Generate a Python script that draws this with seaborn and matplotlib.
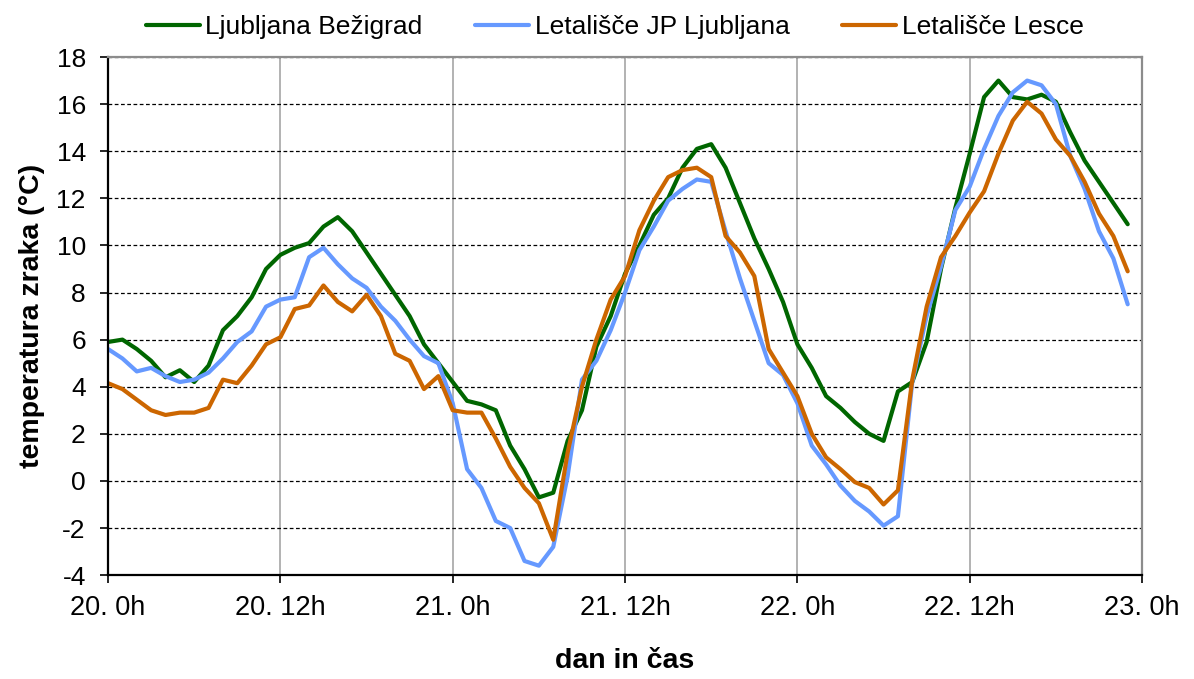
import matplotlib
matplotlib.use("Agg")
import matplotlib.pyplot as plt
import numpy as np
import pandas as pd
import seaborn as sns

# hourly air temperature, 20. 0h .. 22. 23h
hours = list(range(72))

bezigrad = [5.9, 6.0, 5.6, 5.1, 4.4, 4.7, 4.2, 4.9, 6.4, 7.0, 7.8, 9.0,
            9.6, 9.9, 10.1, 10.8, 11.2, 10.6, 9.7, 8.8, 7.9, 7.0, 5.8, 5.0,
            4.2, 3.4, 3.25, 3.0, 1.5, 0.5, -0.7, -0.5, 1.7, 3.0, 5.7, 7.0,
            8.8, 10.0, 11.3, 12.0, 13.3, 14.1, 14.3, 13.3, 11.8, 10.3, 9.0, 7.6,
            5.8, 4.8, 3.6, 3.1, 2.5, 2.0, 1.7, 3.8, 4.2, 5.9, 9.0, 11.6,
            13.9, 16.3, 17.0, 16.3, 16.2, 16.4, 16.1, 14.8, 13.6, 12.7, 11.8, 10.9]

jp_ljubljana = [5.6, 5.2, 4.65, 4.8, 4.45, 4.2, 4.3, 4.6, 5.2, 5.9, 6.35, 7.4,
                7.7, 7.8, 9.5, 9.9, 9.2, 8.6, 8.2, 7.4, 6.8, 6.0, 5.3, 5.0,
                3.3, 0.5, -0.3, -1.7, -2.0, -3.4, -3.6, -2.8, 0.2, 4.3, 5.1, 6.4,
                8.0, 9.8, 10.8, 11.9, 12.4, 12.8, 12.7, 10.6, 8.6, 6.8, 5.0, 4.5,
                3.3, 1.5, 0.7, -0.2, -0.85, -1.3, -1.9, -1.5, 4.2, 7.0, 9.1, 11.5,
                12.5, 14.1, 15.5, 16.5, 17.0, 16.8, 16.0, 13.8, 12.4, 10.6, 9.45, 7.5]

lesce = [4.15, 3.9, 3.45, 3.0, 2.8, 2.9, 2.9, 3.1, 4.3, 4.15, 4.9, 5.8,
         6.1, 7.3, 7.45, 8.3, 7.6, 7.2, 7.9, 7.0, 5.4, 5.1, 3.9, 4.45,
         3.0, 2.9, 2.9, 1.8, 0.6, -0.3, -0.95, -2.5, 1.2, 4.0, 6.0, 7.7,
         8.7, 10.65, 11.9, 12.9, 13.2, 13.3, 12.9, 10.4, 9.7, 8.7, 5.6, 4.6,
         3.6, 2.0, 1.0, 0.5, -0.05, -0.3, -1.0, -0.4, 4.3, 7.4, 9.5, 10.4,
         11.4, 12.3, 13.9, 15.3, 16.1, 15.6, 14.5, 13.8, 12.7, 11.35, 10.4, 8.9]

stations = ["Ljubljana Bežigrad", "Letališče JP Ljubljana", "Letališče Lesce"]
colors = ["#006600", "#6699FF", "#CC6600"]

tick_pos = [0, 12, 24, 36, 48, 60, 72]
tick_labels = ["20. 0h", "20. 12h", "21. 0h", "21. 12h", "22. 0h", "22. 12h", "23. 0h"]

df = pd.DataFrame({"ura": hours * 3,
                   "temp": bezigrad + jp_ljubljana + lesce,
                   "postaja": np.repeat(stations, len(hours))})

sns.set_theme(style="white")
plt.rcParams["font.family"] = ["Liberation Sans", "DejaVu Sans"]
plt.rcParams["axes.unicode_minus"] = False
plt.rcParams["text.color"] = "black"
plt.rcParams["axes.labelcolor"] = "black"
plt.rcParams["xtick.color"] = "black"
plt.rcParams["ytick.color"] = "black"

fig = plt.figure(figsize=(11.94, 6.79), dpi=100)
ax = fig.add_axes([0.0905, 0.153, 0.866, 0.763])

sns.lineplot(data=df, x="ura", y="temp", hue="postaja", hue_order=stations,
             palette=colors, linewidth=3.0, ax=ax)

ax.set_xlim(0, 72)
ax.set_ylim(-4, 18)
ax.set_xticks(tick_pos)
ax.set_xticklabels(tick_labels, fontsize=19.5)
ax.set_yticks(range(-4, 19, 2))
ax.tick_params(axis="y", labelsize=19, length=6, width=1.2, direction="out", left=True, pad=10)
ax.tick_params(axis="x", length=6, width=1.2, direction="out", bottom=True, pad=8)

# grid: solid grey verticals, dashed black horizontals
for x in tick_pos[1:-1]:
    ax.axvline(x, color="#A6A6A6", linewidth=1.2, zorder=0)
for y in range(-2, 19, 2):
    ax.axhline(y, color="black", linestyle=(0, (3, 2)), linewidth=0.9, zorder=0)

for side in ["left", "bottom"]:
    ax.spines[side].set_color("black")
    ax.spines[side].set_linewidth(1.6)
for side in ["top", "right"]:
    ax.spines[side].set_color("#8C8C8C")
    ax.spines[side].set_linewidth(1.6)

ax.set_xlabel("dan in čas", fontsize=20.5, fontweight="bold", labelpad=20)
ax.set_ylabel("temperatura zraka (°C)", fontsize=20.5, fontweight="bold", labelpad=8)

ax.legend(loc="lower center", bbox_to_anchor=(0.49, 1.035), ncol=3, frameon=False,
          fontsize=19, handlelength=2.05, handletextpad=0.2, columnspacing=2.0,
          borderaxespad=0.0, borderpad=0.0)

fig.savefig("out.png", dpi=100)
